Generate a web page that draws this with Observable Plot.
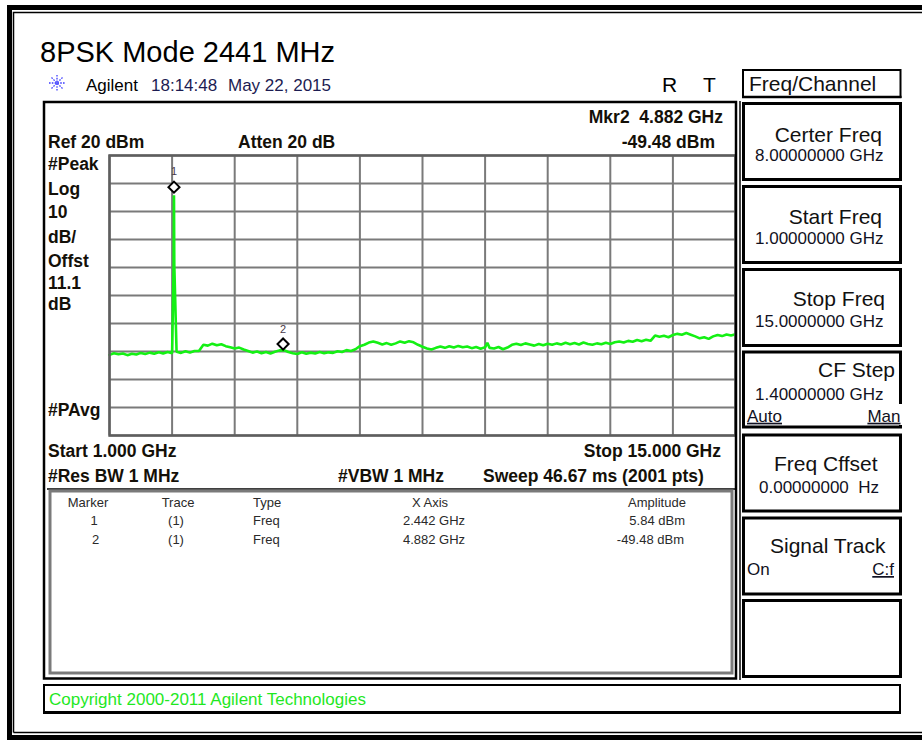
<!DOCTYPE html>
<html>
<head>
<meta charset="utf-8">
<script src="https://cdn.jsdelivr.net/npm/d3@7"></script>
<script src="https://cdn.jsdelivr.net/npm/@observablehq/plot@0.6"></script>
<style>
  html, body { margin: 0; padding: 0; background: #fff; overflow: hidden; }
  #page { position: relative; width: 922px; height: 740px; }
  #chart { position: absolute; left: 0; top: 0; }
  #overlay { position: absolute; left: 0; top: 0; pointer-events: none; }
  #overlay text { font-family: "Liberation Sans", Arial, sans-serif; white-space: pre; }
  .b { font-weight: bold; font-size: 17.5px; fill: #141008; }
  .tbl { font-size: 13px; fill: #2a2a2a; }
  .sk { font-size: 21px; fill: #111; }
  .sv { font-size: 17px; fill: #111122; }
</style>
</head>
<body>
<div id="page">
  <div id="chart"></div>
  <svg id="overlay" width="922" height="740" viewBox="0 0 922 740">
    <!-- outer frame -->
    <path d="M9.5 745 V7.5 H940" fill="none" stroke="#000" stroke-width="5"/>
    <path d="M9.5 737.5 H940" fill="none" stroke="#000" stroke-width="5"/>
    <path d="M13.5 732.5 V12.5 H940" fill="none" stroke="#000" stroke-width="1.5"/>
    <path d="M13.5 732.5 H940" fill="none" stroke="#000" stroke-width="1.5"/>

    <!-- title and header -->
    <text x="40" y="61.5" style="font-size:29px;fill:#000">8PSK Mode 2441 MHz</text>
    <g stroke="#3c3cff" stroke-width="1.3" stroke-dasharray="1.6,1.2">
      <line x1="49" y1="83" x2="65" y2="83"/>
      <line x1="57" y1="75" x2="57" y2="91"/>
      <line x1="51.5" y1="77.5" x2="62.5" y2="88.5"/>
      <line x1="51.5" y1="88.5" x2="62.5" y2="77.5"/>
    </g>
    <text x="86" y="90.5" style="font-size:17px;fill:#000">Agilent</text>
    <text x="151" y="90.5" style="font-size:17px;fill:#1c1c52">18:14:48</text>
    <text x="228" y="90.5" style="font-size:17px;fill:#1c1c52">May 22, 2015</text>
    <text x="662" y="92" style="font-size:21px;fill:#000">R</text>
    <text x="703" y="92" style="font-size:21px;fill:#000">T</text>

    <!-- display box -->
    <rect x="44" y="102" width="692" height="576.5" fill="none" stroke="#000" stroke-width="2.5"/>
    <line x1="740" y1="101" x2="740" y2="680" stroke="#000" stroke-width="1.5"/>

    <text class="b" x="723" y="123" text-anchor="end">Mkr2  4.882 GHz</text>
    <text class="b" x="715" y="148" text-anchor="end">-49.48 dBm</text>
    <text class="b" x="48" y="147.5">Ref 20 dBm</text>
    <text class="b" x="238" y="147.5">Atten 20 dB</text>
    <text class="b" x="48" y="170">#Peak</text>
    <text class="b" x="48" y="195">Log</text>
    <text class="b" x="48" y="218.3">10</text>
    <text class="b" x="48" y="242.5">dB/</text>
    <text class="b" x="48" y="266.5">Offst</text>
    <text class="b" x="48" y="289.3">11.1</text>
    <text class="b" x="48" y="310">dB</text>
    <text class="b" x="48" y="416">#PAvg</text>
    <text class="b" x="48" y="456.7">Start 1.000 GHz</text>
    <text class="b" x="721" y="456.7" text-anchor="end">Stop 15.000 GHz</text>
    <text class="b" x="48" y="481.5">#Res BW 1 MHz</text>
    <text class="b" x="338" y="481.5">#VBW 1 MHz</text>
    <text class="b" x="483" y="481.5">Sweep 46.67 ms (2001 pts)</text>

    <!-- marker table -->
    <line x1="47" y1="489" x2="735" y2="489" stroke="#000" stroke-width="1.5"/>
    <rect x="50" y="491" width="682" height="182" fill="none" stroke="#7a7a7a" stroke-width="3"/>
    <text class="tbl" x="88" y="506.5" text-anchor="middle">Marker</text>
    <text class="tbl" x="178" y="506.5" text-anchor="middle">Trace</text>
    <text class="tbl" x="253" y="506.5">Type</text>
    <text class="tbl" x="430" y="506.5" text-anchor="middle">X Axis</text>
    <text class="tbl" x="657" y="506.5" text-anchor="middle">Amplitude</text>
    <text class="tbl" x="94" y="525" text-anchor="middle">1</text>
    <text class="tbl" x="176" y="525" text-anchor="middle">(1)</text>
    <text class="tbl" x="253" y="525">Freq</text>
    <text class="tbl" x="434" y="525" text-anchor="middle">2.442 GHz</text>
    <text class="tbl" x="685" y="525" text-anchor="end">5.84 dBm</text>
    <text class="tbl" x="95.5" y="543.5" text-anchor="middle">2</text>
    <text class="tbl" x="176" y="543.5" text-anchor="middle">(1)</text>
    <text class="tbl" x="253" y="543.5">Freq</text>
    <text class="tbl" x="434" y="543.5" text-anchor="middle">4.882 GHz</text>
    <text class="tbl" x="684" y="543.5" text-anchor="end">-49.48 dBm</text>

    <!-- copyright -->
    <rect x="44" y="685" width="856" height="27" fill="none" stroke="#000" stroke-width="2"/>
    <line x1="43" y1="712.5" x2="901" y2="712.5" stroke="#000" stroke-width="3"/>
    <text x="49" y="705" style="font-size:17px;fill:#1fe81f">Copyright 2000-2011 Agilent Technologies</text>

    <!-- softkey panel -->
    <rect x="743" y="70" width="157.5" height="27" fill="none" stroke="#000" stroke-width="2"/>
    <line x1="742" y1="97" x2="901.5" y2="97" stroke="#000" stroke-width="2.5"/>
    <text class="sk" x="749" y="91">Freq/Channel</text>

    <rect x="743.5" y="103.5" width="157" height="76" fill="none" stroke="#000" stroke-width="3"/>
    <text class="sk" x="882" y="141.7" text-anchor="end">Certer Freq</text>
    <text class="sv" x="755" y="161">8.00000000 GHz</text>

    <rect x="743.5" y="186.5" width="157" height="76" fill="none" stroke="#000" stroke-width="3"/>
    <text class="sk" x="882" y="224" text-anchor="end">Start Freq</text>
    <text class="sv" x="755" y="244">1.00000000 GHz</text>

    <rect x="743.5" y="269.5" width="157" height="76" fill="none" stroke="#000" stroke-width="3"/>
    <text class="sk" x="885" y="306" text-anchor="end">Stop Freq</text>
    <text class="sv" x="755" y="327">15.0000000 GHz</text>

    <rect x="743.5" y="352" width="157" height="75" fill="none" stroke="#000" stroke-width="3"/>
    <text class="sk" x="895" y="376.7" text-anchor="end">CF Step</text>
    <text class="sv" x="755" y="400">1.40000000 GHz</text>
    <rect x="745" y="404" width="158" height="21" fill="#fff"/>
    <text class="sv" x="747" y="421.7" text-decoration="underline">Auto</text>
    <text class="sv" x="900.5" y="421.7" text-anchor="end" text-decoration="underline">Man</text>

    <rect x="743.5" y="435" width="157" height="76" fill="none" stroke="#000" stroke-width="3"/>
    <text class="sk" x="774" y="471">Freq Cffset</text>
    <text class="sv" x="759" y="493">0.00000000  Hz</text>

    <rect x="743.5" y="518" width="157" height="76" fill="none" stroke="#000" stroke-width="3"/>
    <text class="sk" x="770" y="553">Signal Track</text>
    <text class="sv" x="747" y="575">On</text>
    <text class="sv" x="894" y="575" text-anchor="end" text-decoration="underline">C:f</text>

    <rect x="743.5" y="600.5" width="157" height="76" fill="none" stroke="#000" stroke-width="3"/>
  </svg>
</div>
<script>
// Analyzer settings
const startGHz = 1.0;
const stopGHz = 15.0;
const refLevelDbm = 20;
const bottomLevelDbm = -80;

// Graticule (10 divisions each way)
const gridFreqs = [1.0, 2.4, 3.8, 5.2, 6.6, 8.0, 9.4, 10.8, 12.2, 13.6, 15.0];
const gridLevels = [20, 10, 0, -10, -20, -30, -40, -50, -60, -70, -80];

// Trace samples (GHz, dBm)
const traceFreq = [
  1.0, 1.1, 1.2, 1.3, 1.4, 1.5, 1.6, 1.7, 1.8, 1.9,
  2.0, 2.1, 2.2, 2.3, 2.4, 2.435, 2.442, 2.449, 2.5, 2.6, 2.7, 2.8, 2.9,
  3.0, 3.1, 3.2, 3.3, 3.4, 3.5, 3.6, 3.7, 3.8, 3.9,
  4.0, 4.1, 4.2, 4.3, 4.4, 4.5, 4.6, 4.7, 4.8, 4.9,
  5.0, 5.1, 5.2, 5.3, 5.4, 5.5, 5.6, 5.7, 5.8, 5.9,
  6.0, 6.1, 6.2, 6.3, 6.4, 6.5, 6.6, 6.7, 6.8, 6.9,
  7.0, 7.1, 7.2, 7.3, 7.4, 7.5, 7.6, 7.7, 7.8, 7.9,
  8.0, 8.1, 8.2, 8.3, 8.4, 8.5, 8.6, 8.7, 8.8, 8.9,
  9.0, 9.1, 9.2, 9.3, 9.4, 9.45, 9.5, 9.6, 9.7, 9.8, 9.9,
  10.0, 10.1, 10.2, 10.3, 10.4, 10.5, 10.6, 10.7, 10.8, 10.9,
  11.0, 11.1, 11.2, 11.3, 11.4, 11.5, 11.6, 11.7, 11.8, 11.9,
  12.0, 12.1, 12.2, 12.3, 12.4, 12.5, 12.6, 12.7, 12.8, 12.9,
  13.0, 13.1, 13.2, 13.3, 13.4, 13.5, 13.6, 13.7, 13.8, 13.9,
  14.0, 14.1, 14.2, 14.3, 14.4, 14.5, 14.6, 14.7, 14.8, 14.9,
  15.0
];
const traceDbm = [
  -51.2, -50.6, -51.0, -50.7, -51.3, -50.8, -51.1, -50.5, -50.9, -50.4,
  -50.8, -50.3, -50.7, -50.2, -50.6, -19.0, 5.84, -19.0, -50.1, -50.5, -49.9, -50.4, -49.8,
  -49.8, -47.6, -47.9, -47.2, -47.8, -47.4, -48.1, -48.5, -48.9, -48.6,
  -49.3, -49.8, -50.4, -50.0, -50.6, -50.2, -50.7, -50.1, -49.6, -49.5,
  -50.2, -50.6, -50.9, -50.3, -50.8, -50.4, -50.7, -50.2, -50.6, -50.3,
  -50.5, -49.9, -50.2, -49.5, -49.8, -49.2, -48.1, -47.6, -46.8, -46.4,
  -46.9, -47.5, -47.0, -47.6, -47.1, -46.4, -46.9, -46.3, -46.7, -47.6,
  -48.3, -48.9, -49.3, -48.7, -48.2, -48.7, -48.1, -48.6, -48.0, -48.5,
  -48.2, -48.8, -48.4, -49.0, -48.5, -46.9, -48.7, -48.9, -48.4, -49.2, -48.6,
  -47.6, -47.2, -47.7, -47.1, -47.5, -47.9, -47.3, -47.8, -47.2, -47.6,
  -47.1, -47.5, -46.9, -47.4, -47.0, -47.5, -46.8, -47.3, -47.6, -47.1,
  -47.4, -46.9, -47.3, -46.7, -46.4, -46.8, -46.2, -46.5, -45.9, -46.3,
  -45.8, -46.2, -44.3, -44.7, -44.4, -44.9, -44.1, -43.7, -44.0, -43.4,
  -44.0, -44.6, -45.3, -44.9, -45.5, -44.6, -44.1, -44.5, -43.9, -44.3,
  -43.8
];

// Markers
const markerIds = ["1", "2"];
const markerFreq = [2.442, 4.882];
const markerDbm = [5.84, -49.48];

const trace = traceFreq.map((f, i) => ({f, dbm: traceDbm[i]}));
const markers = markerIds.map((id, i) => ({id, f: markerFreq[i], dbm: markerDbm[i]}));

const font = "Liberation Sans, Arial, sans-serif";
const chart = Plot.plot({
  width: 922,
  height: 740,
  marginLeft: 109,
  marginRight: 187,
  marginTop: 155,
  marginBottom: 305,
  style: {background: "transparent", fontFamily: font},
  x: {domain: [startGHz, stopGHz], axis: null},
  y: {domain: [bottomLevelDbm, refLevelDbm], axis: null},
  marks: [
    Plot.ruleX(gridFreqs, {stroke: "#7a7a7a", strokeWidth: 2}),
    Plot.ruleY(gridLevels, {stroke: "#7a7a7a", strokeWidth: 2}),
    Plot.line(trace, {x: "f", y: "dbm", stroke: "#14f014", strokeWidth: 2.6, strokeLinejoin: "bevel"}),
    Plot.frame({stroke: "#5e5e5e", strokeWidth: 2.5}),
    Plot.dot([markers[0]], {x: "f", y: "dbm", symbol: "diamond2", r: 5, stroke: "#000", strokeWidth: 2, fill: "#fff", dy: -8}),
    Plot.text([markers[0]], {x: "f", y: "dbm", text: "id", dy: -23.5, fontSize: 11, fill: "#4a3a4a"}),
    Plot.dot([markers[1]], {x: "f", y: "dbm", symbol: "diamond2", r: 5, stroke: "#000", strokeWidth: 2, fill: "#fff", dy: -6}),
    Plot.text([markers[1]], {x: "f", y: "dbm", text: "id", dy: -20.5, fontSize: 11, fill: "#4a3a4a"})
  ]
});
document.getElementById("chart").append(chart);
</script>
</body>
</html>
